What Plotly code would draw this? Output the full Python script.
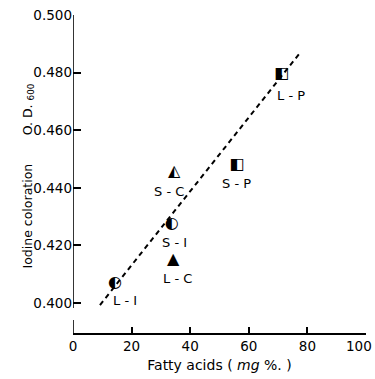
import plotly.graph_objects as go

# ---- data ----
samples = ["L-I", "S-I", "L-C", "S-C", "S-P", "L-P"]
fatty_acids = [14.3, 33.7, 34.2, 34.5, 55.9, 71.2]          # mg %
iodine_od = [0.4069, 0.4274, 0.4149, 0.4456, 0.4479, 0.4794]  # O.D. 600
glyphs = ["◐", "◐", "▲", "◭", "◧", "◧"]

fit_x = [9.2, 77.5]
fit_y = [0.3993, 0.4869]

x_ticks = [0, 20, 40, 60, 80, 100]
y_ticks = [0.400, 0.420, 0.440, 0.460, 0.480, 0.500]

# ---- styling / layout ----
FONT = "DejaVu Sans"
label_dx = [10, 3, 4, -5, 0, 9]
label_dy = [-17, -18, -18, -20, -18, -21]

X_RANGE = [0, 100]
Y_RANGE = [0.3896, 0.5]

fig = go.Figure()

fig.add_trace(go.Scatter(
    x=fit_x, y=fit_y, mode="lines",
    line=dict(color="black", width=2, dash="5px,4px"),
    hoverinfo="skip", showlegend=False,
))

fig.add_trace(go.Scatter(
    x=fatty_acids, y=iodine_od, mode="text", text=glyphs,
    textposition="middle center",
    textfont=dict(family=FONT, size=16, color="black"),
    showlegend=False,
))

for s, x, y, dx, dy in zip(samples, fatty_acids, iodine_od, label_dx, label_dy):
    fig.add_annotation(
        x=x, y=y, xref="x", yref="y", text=s.replace("-", " - "),
        showarrow=False, xshift=dx, yshift=dy,
        font=dict(family=FONT, size=13, color="black"),
    )

# broken y axis line
fig.add_shape(type="line", xref="x", yref="y", x0=0, x1=0, y0=Y_RANGE[0], y1=0.3941,
              line=dict(color="black", width=1.6))
fig.add_shape(type="line", xref="x", yref="y", x0=0, x1=0, y0=0.3983, y1=Y_RANGE[1],
              line=dict(color="black", width=1.6))

# y title pieces
fig.add_annotation(x=0, xref="paper", xshift=-55, y=0.368, yref="paper",
                   text="Iodine coloration", textangle=-90, showarrow=False,
                   font=dict(family=FONT, size=12.5, color="black"))
fig.add_annotation(x=0, xref="paper", xshift=-55, y=0.79, yref="paper",
                   text="O. D. <sub>600</sub>", textangle=-90, showarrow=False,
                   font=dict(family=FONT, size=12.5, color="black"))

# last x tick label, pulled inside the page edge as in the reference
x_ticktext = [str(v) for v in x_ticks[:-1]] + [""]
fig.add_annotation(x=x_ticks[-1], xref="x", y=0, yref="paper", yanchor="top",
                   xanchor="right", xshift=8, yshift=-3,
                   text=str(x_ticks[-1]), showarrow=False,
                   font=dict(family=FONT, size=13.5, color="black"))

fig.update_layout(
    width=375, height=379,
    margin=dict(l=73, r=9, t=15, b=46, autoexpand=False),
    paper_bgcolor="white", plot_bgcolor="white",
    font=dict(family=FONT, size=13, color="black"),
    xaxis=dict(
        range=X_RANGE, tickvals=x_ticks, ticktext=x_ticktext,
        ticks="inside", ticklen=6, tickwidth=1.5, tickcolor="black",
        showline=True, linecolor="black", linewidth=1.6,
        showgrid=False, zeroline=False,
        automargin=False,
        title=dict(text="Fatty acids ( <i>mg</i> %. )", standoff=7,
                   font=dict(family=FONT, size=14)),
        tickfont=dict(family=FONT, size=13.5),
    ),
    yaxis=dict(
        range=Y_RANGE, tickvals=y_ticks, ticktext=[f"{v:.3f}" for v in y_ticks],
        ticks="inside", ticklen=8, tickwidth=1.5, tickcolor="black",
        showline=False, showgrid=False, zeroline=False, automargin=False,
        tickfont=dict(family=FONT, size=13.5),
        ticklabelstandoff=0,
    ),
)

fig.write_html("out.html")
